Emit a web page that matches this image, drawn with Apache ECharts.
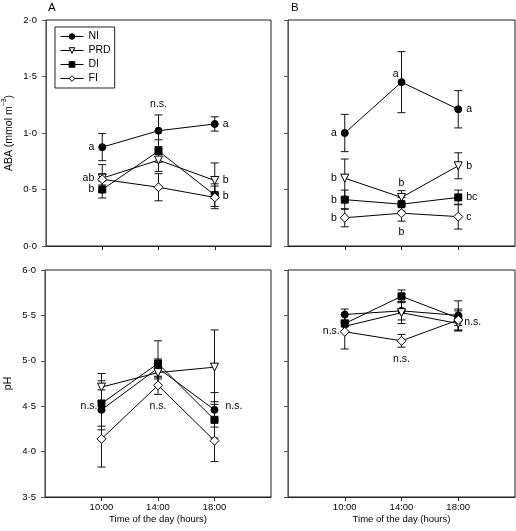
<!DOCTYPE html>
<html><head><meta charset="utf-8">
<script src="https://cdn.jsdelivr.net/npm/echarts@6/dist/echarts.min.js"></script>
<style>html,body{margin:0;padding:0;background:#fff}#c{width:516px;height:531px}</style>
</head><body><div id="c"></div>
<script>
// ---------- DATA ----------
const hours = [10, 14, 18];
const hourLabels = ['10:00', '14:00', '18:00'];
const treatments = ['NI', 'PRD', 'DI', 'FI'];
const abaTicks = [0, 0.5, 1.0, 1.5, 2.0];
const phTicks = [3.5, 4.0, 4.5, 5.0, 5.5, 6.0];

// Panel A – ABA (mmol m-3)
const abaA_NI = [0.875, 1.02, 1.08];   const abaA_NI_err = [0.12, 0.14, 0.063];
const abaA_PRD = [0.60, 0.76, 0.58];   const abaA_PRD_err = [0.12, 0.10, 0.155];
const abaA_DI = [0.50, 0.84, 0.45];    const abaA_DI_err = [0.075, 0.10, 0.10];
const abaA_FI = [0.59, 0.52, 0.43];    const abaA_FI_err = [0.05, 0.12, 0.10];
// Panel B – ABA
const abaB_NI = [1.00, 1.45, 1.21];    const abaB_NI_err = [0.165, 0.27, 0.165];
const abaB_PRD = [0.60, 0.43, 0.71];   const abaB_PRD_err = [0.17, 0.06, 0.115];
const abaB_DI = [0.41, 0.37, 0.43];    const abaB_DI_err = [0.085, 0.06, 0.065];
const abaB_FI = [0.25, 0.29, 0.26];    const abaB_FI_err = [0.08, 0.07, 0.11];
// Panel A – pH
const phA_NI = [4.46, 4.92, 4.46];     const phA_NI_err = [0.22, 0.10, 0.19];
const phA_PRD = [4.71, 4.87, 4.93];    const phA_PRD_err = [0.15, 0.07, 0.41];
const phA_DI = [4.53, 4.97, 4.35];     const phA_DI_err = [0.25, 0.25, 0.20];
const phA_FI = [4.14, 4.73, 4.12];     const phA_FI_err = [0.31, 0.10, 0.23];
// Panel B – pH
const phB_NI = [5.51, 5.55, 5.50];     const phB_NI_err = [0.06, 0.10, 0.16];
const phB_PRD = [5.38, 5.53, 5.41];    const phB_PRD_err = [0.06, 0.12, 0.08];
const phB_DI = [5.41, 5.71, 5.47];     const phB_DI_err = [0.10, 0.07, 0.08];
const phB_FI = [5.32, 5.22, 5.45];     const phB_FI_err = [0.19, 0.07, 0.12];

// Significance letters: [text, hour, anchor value, side, gap]
const notesAbaA = [['a',10,0.875,'left',8],['ab',10,0.60,'left',8],['b',10,0.50,'left',8],
  ['n.s.',14,1.16,'top',5],['a',18,1.08,'right',8],['b',18,0.58,'right',8],['b',18,0.44,'right',8]];
const notesAbaB = [['a',10,1.00,'left',8],['b',10,0.60,'left',8],['b',10,0.41,'left',8],['b',10,0.25,'left',8],
  ['a',14,1.45,'topleft',3],['b',14,0.49,'top',2],['b',14,0.22,'bottom',5],
  ['a',18,1.21,'right',8],['b',18,0.71,'right',8],['bc',18,0.43,'right',8],['c',18,0.26,'right',8]];
const notesPhA = [['n.s.',10,4.50,'left',4],['n.s.',14,4.50,'center',0],['n.s.',18,4.50,'right',11]];
const notesPhB = [['n.s.',10,5.33,'left',5],['n.s.',14,5.15,'bottom',6],['n.s.',18,5.43,'right',6]];

// ---------- CHART ----------
const FONT = 'Liberation Sans, Arial, sans-serif';
const panels = [
  {means: [abaA_NI, abaA_PRD, abaA_DI, abaA_FI], errs: [abaA_NI_err, abaA_PRD_err, abaA_DI_err, abaA_FI_err], notes: notesAbaA},
  {means: [abaB_NI, abaB_PRD, abaB_DI, abaB_FI], errs: [abaB_NI_err, abaB_PRD_err, abaB_DI_err, abaB_FI_err], notes: notesAbaB},
  {means: [phA_NI, phA_PRD, phA_DI, phA_FI], errs: [phA_NI_err, phA_PRD_err, phA_DI_err, phA_FI_err], notes: notesPhA},
  {means: [phB_NI, phB_PRD, phB_DI, phB_FI], errs: [phB_NI_err, phB_PRD_err, phB_DI_err, phB_FI_err], notes: notesPhB}
];
const gridPos = [
  {left: 45, top: 20, width: 226, height: 226},
  {left: 288, top: 20, width: 227, height: 226},
  {left: 45, top: 270, width: 226, height: 227},
  {left: 288, top: 270, width: 227, height: 227}
];
const symbols = {
  NI: {symbol: 'circle', symbolSize: 7, symbolRotate: 0, itemStyle: {color: '#000', borderColor: '#000', borderWidth: 1}},
  PRD: {symbol: 'triangle', symbolSize: 8, symbolRotate: 180, itemStyle: {color: '#fff', borderColor: '#000', borderWidth: 1}},
  DI: {symbol: 'rect', symbolSize: 7, symbolRotate: 0, itemStyle: {color: '#000', borderColor: '#000', borderWidth: 1}},
  FI: {symbol: 'diamond', symbolSize: 9, symbolRotate: 0, itemStyle: {color: '#fff', borderColor: '#000', borderWidth: 1}}
};
const fmtTick = v => v.toFixed(1).replace('.', '\u00B7');

const grids = gridPos.map(g => Object.assign({show: true, borderColor: '#222', borderWidth: 1, backgroundColor: 'transparent'}, g));
const xAxes = gridPos.map((g, i) => ({
  type: 'value', gridIndex: i, min: 6, max: 22,
  axisLine: {show: true, lineStyle: {color: '#222', width: 1}},
  axisTick: {show: true, customValues: hours, length: 4, lineStyle: {color: '#222'}},
  axisLabel: {show: i >= 2, customValues: hours, formatter: v => hourLabels[hours.indexOf(v)], color: '#000', fontSize: 9.5, fontFamily: FONT, margin: 5},
  splitLine: {show: false},
  name: i >= 2 ? 'Time of the day (hours)' : '', nameLocation: 'middle', nameGap: 17,
  nameTextStyle: {color: '#000', fontSize: 9.5, fontFamily: FONT}
}));
const yAxes = gridPos.map((g, i) => {
  const isAba = i < 2;
  const ticks = isAba ? abaTicks : phTicks;
  return {
    type: 'value', gridIndex: i, min: ticks[0], max: ticks[ticks.length - 1], interval: 0.5,
    axisLine: {show: true, lineStyle: {color: '#555', width: 1}},
    axisTick: {show: true, length: 4, lineStyle: {color: '#555'}},
    axisLabel: {show: i % 2 === 0, formatter: fmtTick, color: '#000', fontSize: 9.5, fontFamily: FONT, margin: 9},
    splitLine: {show: false},
    name: i === 0 ? '{n|ABA (mmol m}{s|\u22123}{n|)}' : (i === 2 ? 'pH' : ''),
    nameLocation: 'middle', nameGap: 31, nameRotate: 90,
    nameTextStyle: {color: '#000', fontSize: 10.5, fontFamily: FONT,
      rich: {n: {fontSize: 10.5, fontFamily: FONT, color: '#000', lineHeight: 14, verticalAlign: 'bottom'},
             s: {fontSize: 7, fontFamily: FONT, color: '#000', lineHeight: 14, verticalAlign: 'top'}}}
  };
});

const series = [];
panels.forEach((p, pi) => {
  // error bars
  treatments.forEach((t, ti) => {
    series.push({
      type: 'custom', name: t + '_err', xAxisIndex: pi, yAxisIndex: pi, z: 1, silent: true,
      data: hours.map((h, k) => [h, p.means[ti][k] - p.errs[ti][k], p.means[ti][k] + p.errs[ti][k]]),
      encode: {x: 0, y: [1, 2]},
      renderItem: (params, api) => {
        const x = api.value(0);
        const lo = api.coord([x, api.value(1)]);
        const hi = api.coord([x, api.value(2)]);
        const st = {stroke: '#111', lineWidth: 1};
        return {type: 'group', children: [
          {type: 'line', shape: {x1: lo[0], y1: lo[1], x2: hi[0], y2: hi[1]}, style: st},
          {type: 'line', shape: {x1: lo[0] - 4, y1: lo[1], x2: lo[0] + 4, y2: lo[1]}, style: st},
          {type: 'line', shape: {x1: hi[0] - 4, y1: hi[1], x2: hi[0] + 4, y2: hi[1]}, style: st}
        ]};
      }
    });
  });
  // lines + markers
  treatments.forEach((t, ti) => {
    series.push(Object.assign({
      type: 'line', name: t, xAxisIndex: pi, yAxisIndex: pi, z: 3,
      data: hours.map((h, k) => [h, p.means[ti][k]]),
      showAllSymbol: true, animation: false,
      lineStyle: {color: '#000', width: 1}
    }, symbols[t]));
  });
  // letters
  series.push({
    type: 'custom', name: 'notes' + pi, xAxisIndex: pi, yAxisIndex: pi, z: 5, silent: true,
    data: p.notes.map(n => [n[1], n[2]]),
    encode: {x: 0, y: 1},
    renderItem: (params, api) => {
      const n = p.notes[params.dataIndex];
      const c = api.coord([api.value(0), api.value(1)]);
      const side = n[3], gap = n[4];
      let x = c[0], y = c[1], align = 'center', va = 'middle';
      if (side === 'left') { x -= gap; align = 'right'; }
      else if (side === 'right') { x += gap; align = 'left'; }
      else if (side === 'top') { y -= gap; va = 'bottom'; }
      else if (side === 'bottom') { y += gap; va = 'top'; }
      else if (side === 'topleft') { x -= gap; y -= gap; align = 'right'; va = 'bottom'; }
      return {type: 'text', x: x, y: y, style: {text: n[0], fill: '#000', font: '10.5px ' + FONT, align: align, verticalAlign: va}};
    }
  });
});

const option = {
  animation: false,
  backgroundColor: '#fff',
  textStyle: {fontFamily: FONT},
  grid: grids, xAxis: xAxes, yAxis: yAxes, series: series,
  legend: {
    data: treatments, left: 55, top: 27, orient: 'vertical',
    borderColor: '#222', borderWidth: 1, padding: [3, 4, 3, 5],
    itemGap: 1, itemWidth: 23, itemHeight: 7, selectedMode: false,
    lineStyle: {width: 1, color: '#000'},
    itemStyle: {borderWidth: 1, borderColor: '#000'},
    textStyle: {color: '#000', fontSize: 10.5, fontFamily: FONT, lineHeight: 13, padding: [0, 0, 0, 0]}
  },
  graphic: [
    {type: 'text', left: 48, top: 2, style: {text: 'A', fill: '#000', font: '11.5px ' + FONT}},
    {type: 'text', left: 291, top: 2, style: {text: 'B', fill: '#000', font: '11.5px ' + FONT}}
  ]
};
const chart = echarts.init(document.getElementById('c'), null, {renderer: 'canvas'});
chart.setOption(option);
</script></body></html>
